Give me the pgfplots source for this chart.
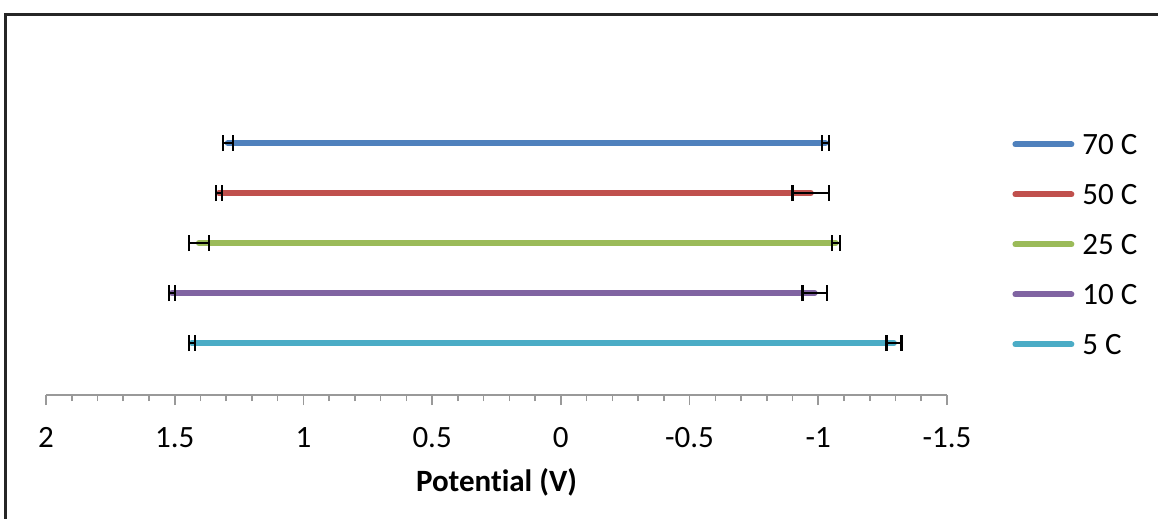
\documentclass[border=0pt]{standalone}
\usepackage{pgfplots}
\pgfplotsset{compat=1.18}
\usepackage{fontspec}
\setmainfont{Carlito}[Ligatures=NoCommon]
\definecolor{c70}{HTML}{4F81BD}
\definecolor{c50}{HTML}{C0504D}
\definecolor{c25}{HTML}{9BBB59}
\definecolor{c10}{HTML}{8064A2}
\definecolor{c5}{HTML}{4BACC6}
\begin{document}
\begin{tikzpicture}
\useasboundingbox (0,0) rectangle (579pt,-259.5pt);
\begin{axis}[
  at={(23pt,-197.5pt)}, anchor=south west,
  scale only axis, width=450.5pt, height=151pt,
  x dir=reverse, xmin=-1.5, xmax=2, ymin=-0.04, ymax=6,
  axis x line=bottom, axis y line=none,
  x axis line style={-, draw=gray!80, line width=0.8pt},
  xtick={-1.5,-1,-0.5,0,0.5,1,1.5,2},
  xticklabels={-1.5,-1,-0.5,0,0.5,1,1.5,2},
  minor x tick num=4,
  tick align=outside,
  major tick length=5pt, minor tick length=3pt,
  every tick/.style={draw=gray!80, line width=0.8pt},
  xticklabel style={font=\fontsize{15.5pt}{18pt}\selectfont, anchor=base, yshift=-21pt},
  xlabel={\textbf{Potential (V)}},
  xlabel style={font=\fontsize{15.5pt}{18pt}\selectfont, at={(axis description cs:0.5,0)}, anchor=center, yshift=-43.5pt},
  legend style={draw=none, fill=none, at={(1.0655,0.927)}, anchor=north west,
     font=\fontsize{15.5pt}{18pt}\selectfont, row sep=0pt, column sep=4pt,
     nodes={inner sep=0pt, text height=17.4pt, text depth=7.6pt}},
  legend cell align=left,
  legend image code/.code={\draw[#1, line width=3pt, line cap=round] (1.5pt,0pt) -- (29.5pt,0pt);},
  clip=false,
  eb/.style={error bars/.cd, x dir=both, x explicit,
    error bar style={black, line width=0.9pt, line cap=butt},
    error mark options={black, line width=1.1pt, mark size=4pt, rotate=90}},
]
\addplot[c70, line width=3pt, line cap=round, eb]
  coordinates {(1.294,5) +- (0.019,0) (-1.028,5) +- (0.014,0)};
\addplot[c50, line width=3pt, line cap=round, eb]
  coordinates {(1.329,4) +- (0.012,0) (-0.971,4) +- (0.071,0)};
\addplot[c25, line width=3pt, line cap=round, eb]
  coordinates {(1.406,3) +- (0.039,0) (-1.068,3) +- (0.016,0)};
\addplot[c10, line width=3pt, line cap=round, eb]
  coordinates {(1.511,2) +- (0.011,0) (-0.986,2) +- (0.047,0)};
\addplot[c5, line width=3pt, line cap=round, eb]
  coordinates {(1.434,1) +- (0.012,0) (-1.294,1) +- (0.029,0)};
\legend{70 C,50 C,25 C,10 C,5 C}
\end{axis}
\draw[line width=1.5pt, black!85] (2.5pt,-262pt) -- (2.5pt,-7.5pt) -- (582pt,-7.5pt);
\end{tikzpicture}
\end{document}
